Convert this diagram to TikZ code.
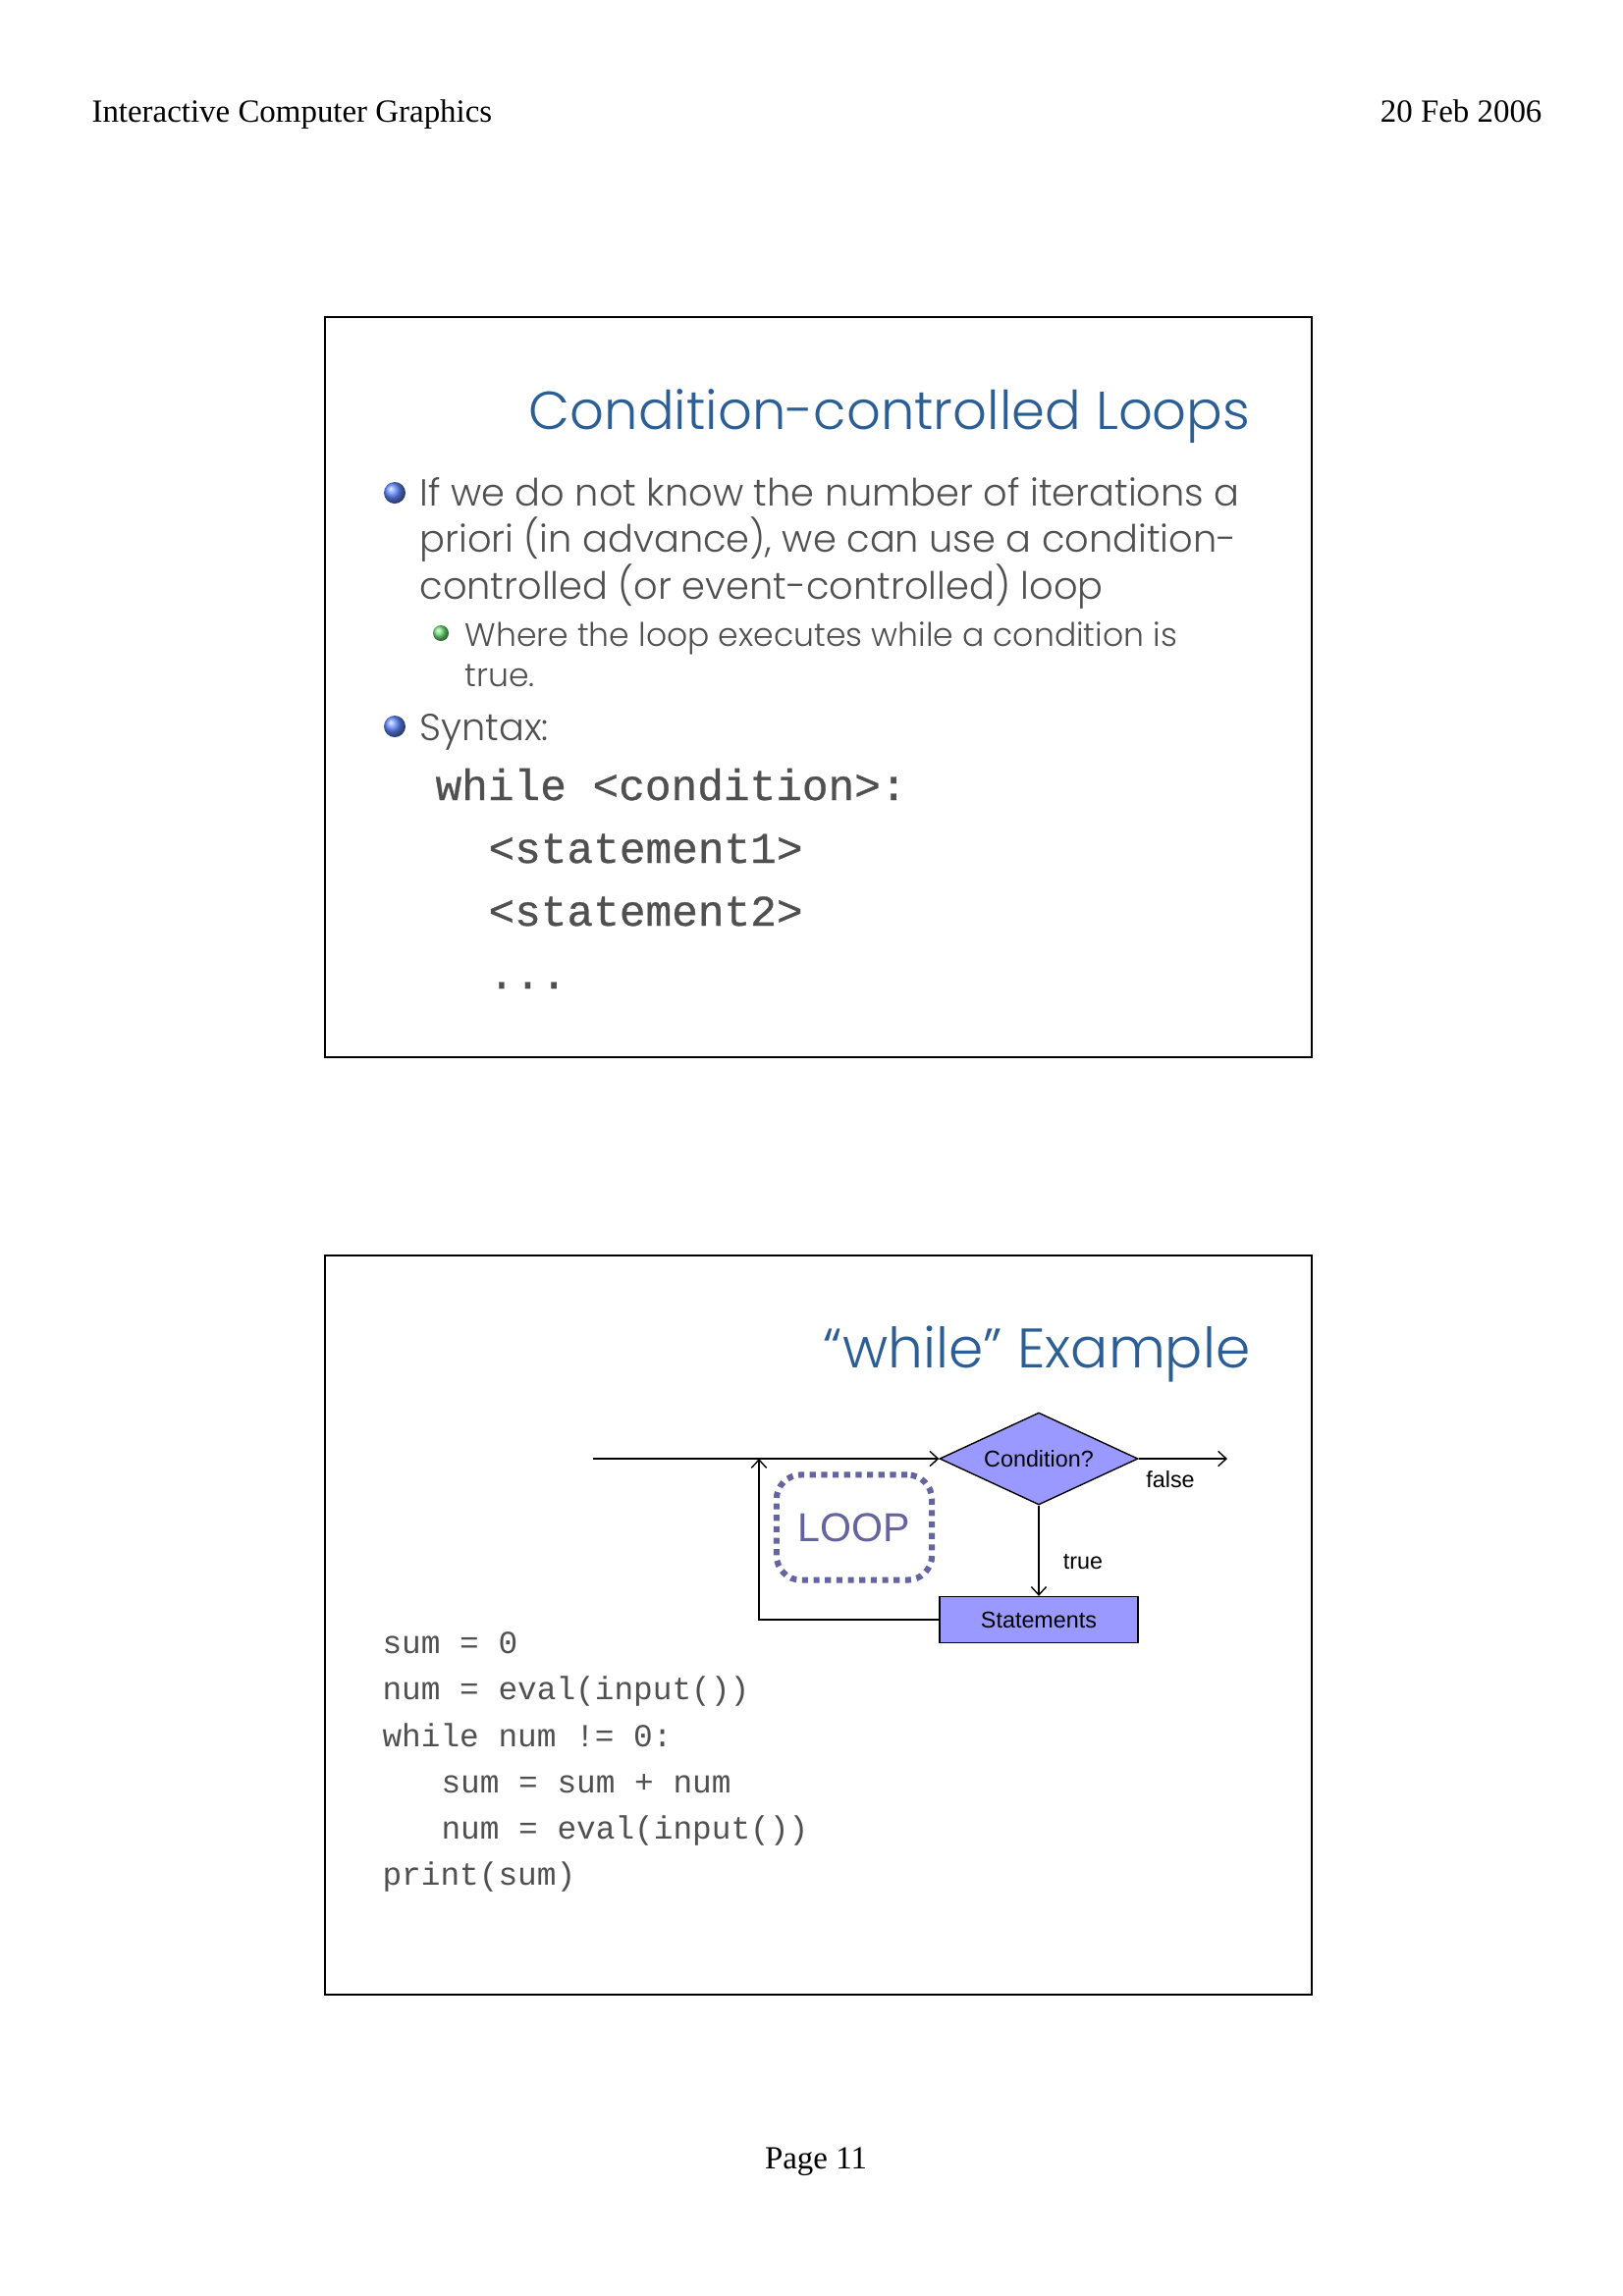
\documentclass[tikz,border=0pt]{standalone}
\usepackage{fontspec}
\setmainfont{Liberation Serif}
\setsansfont{Poppins Light}
\setmonofont{Liberation Mono}
\newfontfamily\arialfont{Liberation Sans}
\newfontfamily\syntaxfont{Liberation Mono}[FakeBold=0.7]
\usetikzlibrary{shapes.geometric,arrows.meta}
\definecolor{titleblue}{RGB}{44,94,150}
\definecolor{bodygray}{RGB}{80,80,80}
\definecolor{codegray}{RGB}{80,80,80}
\definecolor{flowfill}{RGB}{153,153,255}
\definecolor{loopcol}{RGB}{100,100,160}
\definecolor{bulletblue}{RGB}{95,135,255}
\definecolor{bulletgreen}{RGB}{110,225,120}

\begin{document}
\begin{tikzpicture}[x=0.36pt,y=-0.36pt]
    \tikzstyle{every node}=[inner sep=0pt]
    \tikzstyle{header}=[font={\fontsize{11.85}{14}\selectfont}]
    \tikzstyle{slide}=[draw=black, line width=1pt]
    \tikzstyle{slidetitle}=[anchor=base east, text=titleblue, font={\sffamily\fontsize{19.6}{24}\selectfont}]
    \tikzstyle{bodytext}=[anchor=base west, text=bodygray, font={\sffamily\fontsize{13.8}{16}\selectfont}]
    \tikzstyle{subtext}=[anchor=base west, text=bodygray, font={\sffamily\fontsize{11.9}{14}\selectfont}]
    \tikzstyle{syntax}=[anchor=base west, text=codegray, font={\syntaxfont\fontsize{16}{19}\selectfont}]
    \tikzstyle{code}=[anchor=base west, text=codegray, font={\ttfamily\fontsize{11.8}{14}\selectfont}]
    \tikzstyle{flowbox}=[draw=black, fill=flowfill, line width=0.5pt, font={\arialfont\fontsize{8.4}{10}\selectfont}]
    \tikzstyle{flowlabel}=[font={\arialfont\fontsize{8.4}{10}\selectfont}]
    \tikzstyle{flowline}=[-{Straight Barb[length=3pt,width=5.5pt]}, line width=0.5pt]
    \useasboundingbox[fill=white] (0,0) rectangle (1653,2339);

    \node[header, anchor=base west] (course) at (93,124) {Interactive Computer Graphics};
    \node[header, anchor=base east] (date) at (1571,124) {20 Feb 2006};
    \node[header, anchor=base] (page) at (831,2209) {Page 11};

    \draw[slide] (331,323) rectangle (1336,1077);
    \node[slidetitle] (title1) at (1274,437) {Condition-controlled Loops};
    \shade[ball color=bulletblue] (402,502) circle (11);
    \node[bodytext] (pointa) at (427,515) {If we do not know the number of iterations a};
    \node[bodytext] (pointb) at (427,562) {priori (in advance), we can use a condition-};
    \node[bodytext] (pointc) at (427,610) {controlled (or event-controlled) loop};
    \shade[ball color=bulletgreen] (449,645) circle (8);
    \node[subtext] (suba) at (473,658) {Where the loop executes while a condition is};
    \node[subtext] (subb) at (473,699) {true.};
    \shade[ball color=bulletblue] (402,740) circle (11);
    \node[bodytext] (syntax) at (427,754) {Syntax:};
    \node[syntax] (whileline) at (443,815) {while <condition>:};
    \node[syntax] (stmta) at (497,879) {<statement1>};
    \node[syntax] (stmtb) at (497,943) {<statement2>};
    \node[syntax] (dots) at (497,1007) {...};

    \draw[slide] (331,1279) rectangle (1336,2032);
    \node[slidetitle, font={\sffamily\fontsize{20.4}{24}\selectfont}] (title2) at (1274,1393) {``while'' Example};

    \node[flowbox, diamond, shape aspect=2.15, minimum width=72.7pt, minimum height=33.8pt] (cond) at (1058,1486) {Condition?};
    \node[flowbox, rectangle, minimum width=72.7pt, minimum height=16.9pt] (stmts) at (1058,1650) {Statements};
    \node[draw=loopcol, line width=2.2pt, dash pattern=on 2.2pt off 2pt, rounded corners=9pt, minimum width=57pt, minimum height=38.6pt, text=loopcol, font={\arialfont\fontsize{14.8}{17}\selectfont}] (loop) at (870,1556) {LOOP};
    \coordinate (entry) at (604,1486);
    \coordinate (exit) at (1250,1486);
    \coordinate (back) at (773,1486);
    \draw[line width=0.5pt] (entry) -- (back);
    \draw[flowline] (back) -- (cond.west);
    \draw[flowline] (cond.east) -- (exit);
    \draw[flowline] (cond.south) -- (stmts.north);
    \draw[flowline] (stmts.west) -| (back);
    \node[flowlabel] (falselbl) at (1192,1507) {false};
    \node[flowlabel] (truelbl) at (1103,1591) {true};

    \node[code] (codea) at (389,1684) {sum = 0};
    \node[code] (codeb) at (389,1731) {num = eval(input())};
    \node[code] (codec) at (389,1779) {while num != 0:};
    \node[code] (coded) at (449,1826) {sum = sum + num};
    \node[code] (codee) at (449,1873) {num = eval(input())};
    \node[code] (codef) at (389,1920) {print(sum)};
\end{tikzpicture}
\end{document}
